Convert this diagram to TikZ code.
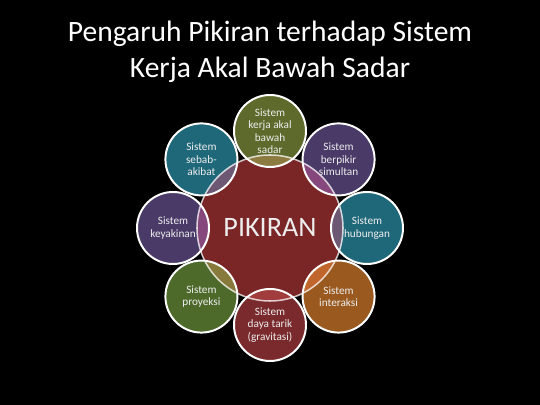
\documentclass[tikz,border=0pt]{standalone}
\usepackage{fontspec}
\setmainfont{Carlito}
%circle colours
\definecolor{pikred}{HTML}{7A2526}
\definecolor{olivec}{HTML}{5E6A2B}
\definecolor{purplec}{HTML}{4A3A68}
\definecolor{tealc}{HTML}{1F687A}
\definecolor{orangec}{HTML}{9A5A1F}
\definecolor{redc}{HTML}{7A2A2C}
\definecolor{greenc}{HTML}{4E6A2A}
%overlap colours
\definecolor{oliveov}{HTML}{8C7B40}
\definecolor{purpleov}{HTML}{86487C}
\definecolor{tealov}{HTML}{6C5872}
\definecolor{orangeov}{HTML}{C0652C}
\definecolor{redov}{HTML}{A03C3C}
\definecolor{greenov}{HTML}{887A3A}
\definecolor{satext}{HTML}{EDEDED}
\begin{document}
\begin{tikzpicture}[x=0.025cm, y=0.025cm,
    sat/.style={align=center, inner sep=0pt, text=satext, font=\fontsize{8}{8.8}\selectfont},
    titletext/.style={anchor=base, text=white, font=\fontsize{21}{24}\selectfont},
    rim/.style={draw=white, line width=1.4pt}]
\fill[black] (0,0) rectangle (540,405);
\useasboundingbox (0,0) rectangle (540,405);
%title
\node[titletext] (title1) at (270,363) {Pengaruh Pikiran terhadap Sistem};
\node[titletext] (title2) at (270,327) {Kerja Akal Bawah Sadar};
%---------------------------------------------------------
\begin{scope}[shift={(270,177)}]
%fills
\fill[pikred] (0,0) circle[radius=73];
\fill[olivec] (90:97) circle[radius=36]; %kerja akal
\fill[purplec] (45:97) circle[radius=36]; %berpikir
\fill[tealc] (0:97) circle[radius=36]; %hubungan
\fill[orangec] (-45:97) circle[radius=36]; %interaksi
\fill[redc] (-90:97) circle[radius=36]; %gravitasi
\fill[greenc] (-135:97) circle[radius=36]; %proyeksi
\fill[purplec] (180:97) circle[radius=36]; %keyakinan
\fill[tealc] (135:97) circle[radius=36]; %sebab-akibat
%overlaps with PIKIRAN
\begin{scope}
\clip (0,0) circle[radius=73];
\fill[oliveov] (90:97) circle[radius=36];
\fill[purpleov] (45:97) circle[radius=36];
\fill[tealov] (0:97) circle[radius=36];
\fill[orangeov] (-45:97) circle[radius=36];
\fill[redov] (-90:97) circle[radius=36];
\fill[greenov] (-135:97) circle[radius=36];
\fill[purpleov] (180:97) circle[radius=36];
\fill[tealov] (135:97) circle[radius=36];
\end{scope}
%rims
\draw[rim, draw opacity=0.75, line width=1.1pt] (0,0) circle[radius=73];
\foreach \a in {0,45,...,315}
    \draw[rim] (\a:97) circle[radius=36];
%labels
\node[text=satext, font=\fontsize{20}{24}\selectfont] (pikiran) at (0,1) {PIKIRAN};
\node[sat] (kerja) at (90:97) {Sistem\\kerja akal\\bawah\\sadar};
\node[sat] (berpikir) at (45:97) {Sistem\\berpikir\\simultan};
\node[sat] (hubungan) at (0:97) {Sistem\\hubungan};
\node[sat] (interaksi) at (-45:97) {Sistem\\interaksi};
\node[sat] (gravitasi) at (-90:97) {Sistem\\daya tarik\\(gravitasi)};
\node[sat] (proyeksi) at (-135:97) {Sistem\\proyeksi};
\node[sat] (keyakinan) at (180:97) {Sistem\\keyakinan};
\node[sat] (sebab) at (135:97) {Sistem\\sebab-\\akibat};
\end{scope}
\end{tikzpicture}
\end{document}
